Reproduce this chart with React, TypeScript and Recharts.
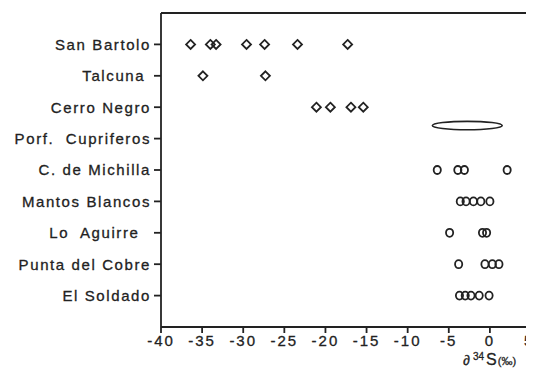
import {
  ScatterChart,
  Scatter,
  XAxis,
  YAxis,
  ReferenceLine,
  ReferenceArea,
} from "recharts";

// deposits, top to bottom
const sites = [
  "San Bartolo",
  "Talcuna\u00a0",
  "Cerro Negro",
  "Porf.\u00a0 Cupriferos",
  "C. de Michilla",
  "Mantos Blancos",
  "Lo\u00a0 Aguirre\u00a0\u00a0",
  "Punta del Cobre",
  "El Soldado",
];

// d34S values (per mil)
const sanBartolo = [-36.4, -34.0, -33.3, -29.6, -27.4, -23.4, -17.3];
const talcuna = [-34.9, -27.3];
const cerroNegro = [-21.1, -19.4, -16.9, -15.4];
const michilla = [-6.4, -3.9, -3.1, 2.1];
const mantosBlancos = [-3.6, -2.9, -2.0, -1.1, 0.0];
const loAguirre = [-4.9, -0.9, -0.4];
const puntaCobre = [-3.8, -0.6, 0.3, 1.1];
const elSoldado = [-3.7, -3.0, -2.3, -1.3, -0.1];

// porphyry range drawn as an ellipse
const porfRange = [-7.0, 1.5];
const porfRow = [2.45, 2.72];

const xTicks = [-40, -35, -30, -25, -20, -15, -10, -5, 0, 5];
const rowTicks = [0, 1, 2, 3, 4, 5, 6, 7, 8];

const toPoints = (rows: number[][], offset: number) =>
  rows.flatMap((vals, i) => vals.map((v) => ({ x: v, y: i + offset })));

const diamondData = toPoints([sanBartolo, talcuna, cerroNegro], 0);
const circleData = toPoints(
  [michilla, mantosBlancos, loAguirre, puntaCobre, elSoldado],
  4
);

const INK = "#222";
const FONT = "'Liberation Sans', Arial, sans-serif";

const Diamond = (props: any) => {
  const { cx, cy } = props;
  const r = 4.5;
  return (
    <polygon
      points={`${cx},${cy - r} ${cx + r},${cy} ${cx},${cy + r} ${cx - r},${cy}`}
      fill="none"
      stroke={INK}
      strokeWidth={1.8}
    />
  );
};

const Ring = (props: any) => {
  const { cx, cy } = props;
  return (
    <ellipse cx={cx} cy={cy} rx={3.6} ry={4} fill="none" stroke={INK} strokeWidth={1.8} />
  );
};

const EllipseShape = (props: any) => {
  const { x, y, width, height } = props;
  return (
    <ellipse
      cx={x + width / 2}
      cy={y + height / 2}
      rx={Math.abs(width) / 2}
      ry={Math.abs(height) / 2}
      fill="none"
      stroke={INK}
      strokeWidth={1.6}
    />
  );
};

const AxisTitle = (props: any) => {
  const { viewBox } = props;
  const x = viewBox.x + viewBox.width - 68;
  const y = viewBox.y + 38;
  return (
    <text x={x} y={y} fill={INK} fontFamily={FONT} stroke={INK} strokeWidth={0.3}>
      <tspan fontSize={14}>∂</tspan>
      <tspan fontSize={10} dx={3} dy={-5}>34</tspan>
      <tspan fontSize={16} dx={2} dy={5}>S</tspan>
      <tspan fontSize={11} dx={1}>(‰)</tspan>
    </text>
  );
};

const App = () => {
  return (
    <ScatterChart
      width={526}
      height={362}
      margin={{ top: 5, right: 3, left: 0, bottom: 13 }}
    >
      <XAxis
        type="number"
        dataKey="x"
        domain={[-40, 5]}
        ticks={xTicks}
        allowDataOverflow
        height={30}
        stroke={INK}
        strokeWidth={1.8}
        tickSize={6}
        tickMargin={2}
        tick={{
          fill: INK,
          stroke: INK,
          strokeWidth: 0.3,
          fontSize: 15,
          fontFamily: FONT,
          letterSpacing: 2,
        }}
        label={<AxisTitle />}
      />
      <YAxis
        type="number"
        dataKey="y"
        domain={[-1, 9]}
        reversed
        ticks={rowTicks}
        tickFormatter={(v: number) => sites[v] ?? ""}
        width={153}
        stroke={INK}
        strokeWidth={1.8}
        tickSize={7}
        tickMargin={3}
        tick={{
          fill: INK,
          stroke: INK,
          strokeWidth: 0.3,
          fontSize: 15,
          fontFamily: FONT,
          letterSpacing: 1.6,
        }}
        interval={0}
      />
      <ReferenceLine y={-1} stroke={INK} strokeWidth={1.8} />
      <ReferenceLine x={5} stroke={INK} strokeWidth={1.8} />
      <ReferenceArea
        x1={porfRange[0]}
        x2={porfRange[1]}
        y1={porfRow[0]}
        y2={porfRow[1]}
        shape={<EllipseShape />}
      />
      <Scatter data={diamondData} shape={<Diamond />} isAnimationActive={false} />
      <Scatter data={circleData} shape={<Ring />} isAnimationActive={false} />
    </ScatterChart>
  );
};

export default App;
